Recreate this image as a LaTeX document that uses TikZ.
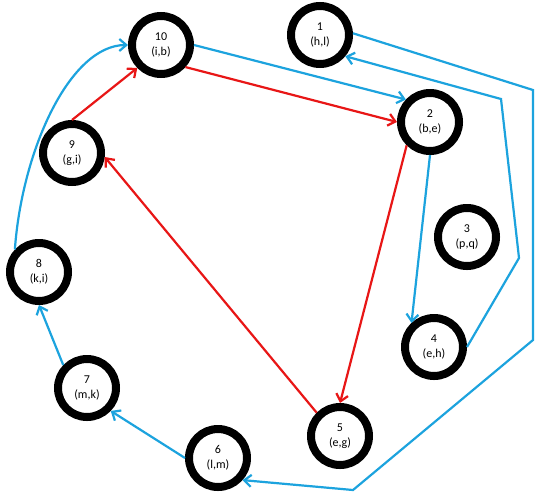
\documentclass[tikz,border=0pt]{standalone}
\usepackage{fontspec}
\setmainfont{Carlito}
\usetikzlibrary{arrows.meta}
\definecolor{cblue}{RGB}{28,163,222}
\definecolor{cred}{RGB}{232,22,22}
\begin{document}
\begin{tikzpicture}[x=1pt,y=-1pt,
  vert/.style={circle,draw=black,line width=8pt,minimum size=58pt,inner sep=0pt,fill=white,align=center,font=\fontsize{12}{15}\selectfont},
  tip/.style={-{Straight Barb[length=7pt,width=12pt]}},
  bl/.style={draw=cblue,line width=2.2pt,tip},
  rd/.style={draw=cred,line width=2.2pt,tip}]
\useasboundingbox[fill=white] (0,0) rectangle (540,499);

\node[vert] (n1) at (320,35) {1\\(h,l)};
\node[vert] (n2) at (430,122) {2\\(b,e)};
\node[vert] (n3) at (467,237) {3\\(p,q)};
\node[vert] (n4) at (434,347) {4\\(e,h)};
\node[vert] (n5) at (340,436) {5\\(e,g)};
\node[vert] (n6) at (218,458) {6\\(l,m)};
\node[vert] (n7) at (87,388) {7\\(m,k)};
\node[vert] (n8) at (39,272) {8\\(k,i)};
\node[vert] (n9) at (72,153) {9\\(g,i)};
\node[vert] (n10) at (161,45) {10\\(i,b)};

\coordinate (a1) at (533,90);
\coordinate (a2) at (533,340);
\coordinate (a3) at (353,490);
\coordinate (b1) at (519,258);
\coordinate (b2) at (501,99);

% blue connectors
\draw[bl] (n10.east) -- (n2.137);
\draw[bl] (n2.south) -- (n4.133);
\draw[bl] (n4.east) -- (b1) -- (b2) -- (n1.-40);
\draw[bl] (n1.3) -- (a1) -- (a2) -- (a3) -- (n6.-42);
\draw[bl] (n6.west) -- (n7.-44);
\draw[bl] (n7.136) -- (n8.south);
\draw[bl] (n8.137) .. controls (22,150) and (70,45) .. (n10.west);

% red connectors
\draw[rd] (n10.-42) -- (n2.west);
\draw[rd] (n2.225) -- (n5.north);
\draw[rd] (n5.135) -- (n9.-7);
\draw[rd] (n9.north) -- (n10.224);
\end{tikzpicture}
\end{document}
